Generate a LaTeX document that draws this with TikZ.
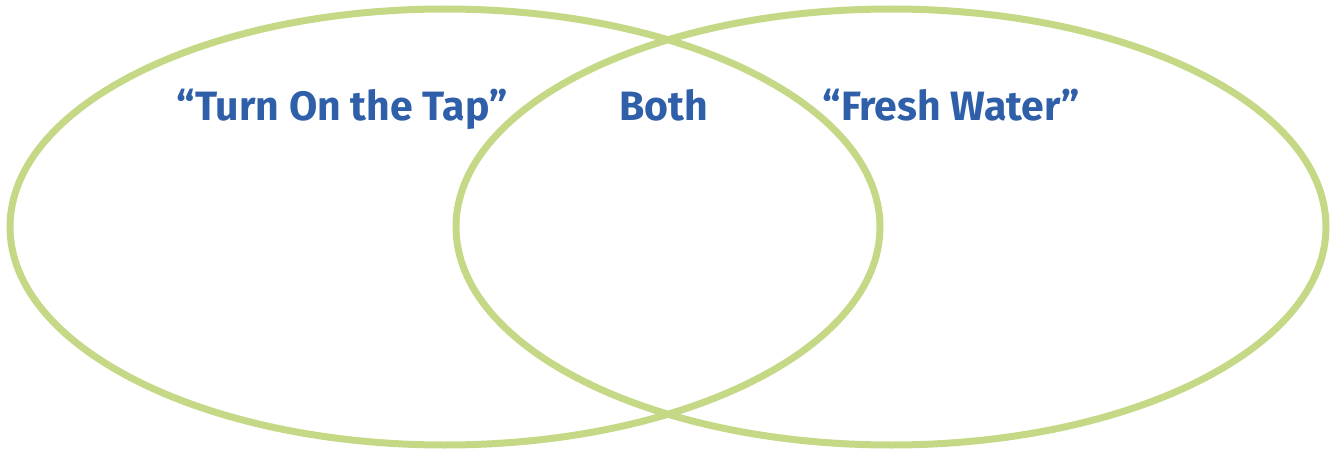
\documentclass[tikz,border=0pt]{standalone}
\usepackage{xcolor}
\usepackage{fontspec}
\setmainfont{Fira Sans}
\usetikzlibrary{positioning}
\definecolor{ringgreen}{HTML}{C4D886}
\definecolor{titleblue}{HTML}{2E5FA8}

\begin{document}
\begin{tikzpicture}[x=1pt, y=-1pt, line width=7pt,
  ring/.style={draw=ringgreen},
  title/.style={text=titleblue, font=\fontsize{41}{46}\selectfont\bfseries, anchor=base, inner sep=0pt}]
  \useasboundingbox (0,0) rectangle (1331,452);

  % Kruhy
  \draw[ring] (445,227) ellipse [x radius=435, y radius=218];
  \draw[ring] (891,227) ellipse [x radius=435, y radius=218];

  % Nadpisy
  \node[title] (tap) at (342,121) {“Turn On the Tap”};
  \node[title] (both) at (664,121) {Both};
  \node[title] (fresh) at (951,121) {“Fresh Water”};
\end{tikzpicture}
\end{document}
